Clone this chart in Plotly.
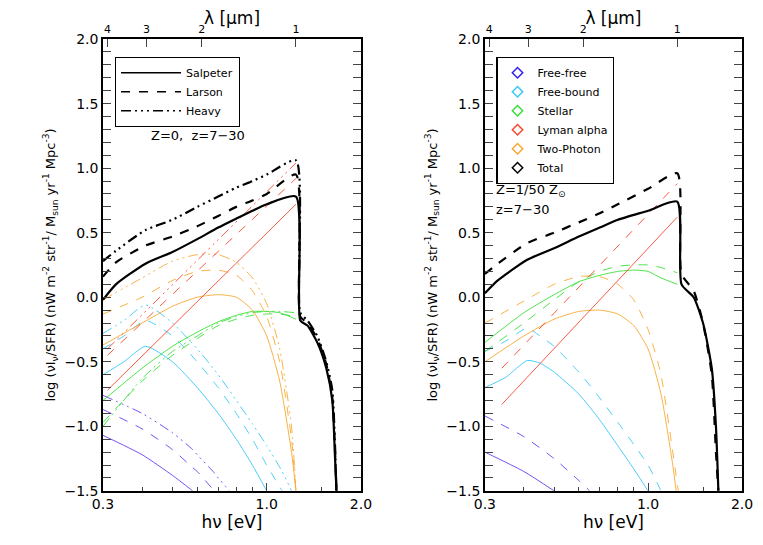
import math
import plotly.graph_objects as go

# Energie-Stuetzstellen (eV)
e_tot = [0.3, 0.33, 0.41, 0.5, 0.6, 0.7, 0.8, 0.9, 1.0, 1.24, 1.28, 1.35, 1.45, 1.55, 1.62, 1.65, 1.67]

# --- Linkes Panel: Z=0 ---
l_tot_sal = [-0.02, 0.1, 0.26, 0.35, 0.45, 0.54, 0.61, 0.67, 0.72, 0.78, -0.18, -0.22, -0.35, -0.55, -0.8, -1.2, -1.5]
l_tot_lar = [0.16, 0.27, 0.4, 0.47, 0.55, 0.63, 0.7, 0.75, 0.8, 0.95, -0.15, -0.2, -0.32, -0.52, -0.78, -1.15, -1.5]
l_tot_hev = [0.28, 0.36, 0.52, 0.6, 0.7, 0.78, 0.85, 0.9, 0.95, 1.06, -0.12, -0.18, -0.3, -0.5, -0.72, -1.1, -1.5]

lya_x = [0.31, 1.24]
l_lya_sal = [-0.72, 0.72]
l_lya_lar = [-0.45, 0.92]
l_lya_hev = [-0.4, 1.04]

l_2ph_x = [0.3, 0.4, 0.5, 0.6, 0.7, 0.8, 0.9, 1.0, 1.1, 1.2, 1.24]
l_2ph_sal = [-0.37, -0.2, -0.07, 0.0, 0.02, 0.0, -0.1, -0.3, -0.65, -1.2, -1.5]
l_2ph_lar = [-0.13, 0.0, 0.13, 0.2, 0.21, 0.17, 0.05, -0.15, -0.5, -1.1, -1.5]
l_2ph_hev = [-0.02, 0.15, 0.28, 0.33, 0.33, 0.27, 0.15, -0.05, -0.4, -1.0, -1.5]

fb_x = [0.3, 0.35, 0.41, 0.5, 0.6, 0.7, 0.8, 0.9, 1.0, 1.12, 1.2]
l_fb_sal = [-0.6, -0.5, -0.38, -0.5, -0.7, -0.9, -1.1, -1.3, -1.5, None, None]
l_fb_lar = [-0.4, -0.3, -0.18, -0.3, -0.5, -0.7, -0.9, -1.1, -1.3, -1.5, None]
l_fb_hev = [-0.28, -0.18, -0.06, -0.2, -0.4, -0.6, -0.8, -0.98, -1.15, -1.35, -1.5]

st_x = [0.3, 0.4, 0.5, 0.6, 0.7, 0.8, 0.9, 1.0, 1.1, 1.24]
l_st_sal = [-0.8, -0.55, -0.38, -0.27, -0.19, -0.14, -0.11, -0.11, -0.12, -0.17]
l_st_lar = [-0.97, -0.65, -0.45, -0.32, -0.22, -0.17, -0.14, -0.13, -0.13, -0.15]
l_st_hev = [-1.0, -0.63, -0.42, -0.3, -0.2, -0.15, -0.12, -0.11, -0.11, -0.12]

ff_x = [0.3, 0.4, 0.5, 0.58, 0.6, 0.68, 0.7, 0.76]
l_ff_sal = [-1.07, -1.22, -1.38, -1.5, None, None, None, None]
l_ff_lar = [-0.87, -1.02, -1.18, -1.32, -1.35, -1.5, None, None]
l_ff_hev = [-0.76, -0.9, -1.05, -1.18, -1.22, -1.36, -1.4, -1.5]

# --- Rechtes Panel: Z=1/50 Zsun ---
r_tot_x = [0.3, 0.33, 0.41, 0.5, 0.6, 0.7, 0.8, 1.0, 1.24, 1.28, 1.4, 1.5, 1.6, 1.65, 1.68]
r_tot_sal = [0.03, 0.13, 0.29, 0.38, 0.47, 0.54, 0.6, 0.67, 0.74, 0.1, 0.0, -0.2, -0.55, -1.0, -1.5]
r_tot_lar = [0.18, 0.26, 0.42, 0.5, 0.58, 0.65, 0.72, 0.84, 0.96, 0.18, 0.05, -0.2, -0.6, -1.2, -1.5]

r_lya_x = [0.34, 1.24]
r_lya_sal = [-0.83, 0.62]
r_lya_lar = [-0.55, 0.88]

r_2ph_x = [0.3, 0.4, 0.5, 0.6, 0.7, 0.8, 0.9, 1.0, 1.1, 1.2, 1.23, 1.25]
r_2ph_sal = [-0.5, -0.3, -0.17, -0.11, -0.1, -0.13, -0.22, -0.4, -0.75, -1.3, -1.5, None]
r_2ph_lar = [-0.2, -0.03, 0.1, 0.16, 0.16, 0.1, -0.02, -0.25, -0.6, -1.2, -1.38, -1.5]

r_st_sal = [-0.35, -0.12, 0.02, 0.12, 0.17, 0.2, 0.21, 0.2, 0.15, 0.1]
r_st_lar = [-0.42, -0.2, -0.02, 0.12, 0.2, 0.24, 0.25, 0.25, 0.23, 0.19]

r_fb_x = [0.3, 0.35, 0.41, 0.45, 0.5, 0.6, 0.7, 0.8, 0.9, 1.0, 1.1]
r_fb_sal = [-0.7, -0.62, -0.49, -0.51, -0.58, -0.75, -0.95, -1.15, -1.33, -1.5, None]
r_fb_lar = [-0.42, -0.34, -0.24, -0.3, -0.38, -0.58, -0.78, -0.97, -1.14, -1.3, -1.5]

r_ff_x = [0.3, 0.4, 0.5, 0.6, 0.65]
r_ff_sal = [-1.2, -1.35, -1.5, None, None]
r_ff_lar = [-0.92, -1.08, -1.25, -1.42, -1.5]

# Top-Achse: Wellenlaenge
lam_ticks = [4, 3, 2, 1]

PURPLE = "#6a3cf0"
CYAN = "#38c8f8"
GREEN = "#38e038"
RED = "#f84830"
ORANGE = "#f8a830"
HEAVY = "10px,4px,2px,4px,2px,4px,2px,4px"
FONT = "DejaVu Sans"

fig = go.Figure()


def add(x, y, color, dash, width, xa):
    fig.add_trace(go.Scatter(x=x, y=y, mode="lines", xaxis=xa, yaxis="y" if xa == "x" else "y2",
                             line=dict(color=color, dash=dash, width=width, shape="spline", smoothing=0.6),
                             showlegend=False, hoverinfo="skip"))


# linkes Panel
for col, xs, ys in [(PURPLE, ff_x, [l_ff_sal, l_ff_lar, l_ff_hev]),
                    (CYAN, fb_x, [l_fb_sal, l_fb_lar, l_fb_hev]),
                    (GREEN, st_x, [l_st_sal, l_st_lar, l_st_hev]),
                    (ORANGE, l_2ph_x, [l_2ph_sal, l_2ph_lar, l_2ph_hev]),
                    (RED, lya_x, [l_lya_sal, l_lya_lar, l_lya_hev]),
                    ("black", e_tot, [l_tot_sal, l_tot_lar, l_tot_hev])]:
    w = 2.2 if col == "black" else 0.9
    for y, d in zip(ys, ["solid", "dash", HEAVY]):
        add(xs, y, col, d, w, "x")

# rechtes Panel
for col, xs, ys in [(PURPLE, r_ff_x, [r_ff_sal, r_ff_lar]),
                    (CYAN, r_fb_x, [r_fb_sal, r_fb_lar]),
                    (GREEN, st_x, [r_st_sal, r_st_lar]),
                    (ORANGE, r_2ph_x, [r_2ph_sal, r_2ph_lar]),
                    (RED, r_lya_x, [r_lya_sal, r_lya_lar]),
                    ("black", r_tot_x, [r_tot_sal, r_tot_lar])]:
    w = 2.2 if col == "black" else 0.9
    for y, d in zip(ys, ["solid", "dash"]):
        add(xs, y, col, d, w, "x2")

# Legenden
for name, d in [("Salpeter", "solid"), ("Larson", "dash"), ("Heavy", HEAVY)]:
    fig.add_trace(go.Scatter(x=[None], y=[None], mode="lines", name=name, legend="legend",
                             line=dict(color="black", dash=d, width=1.3)))
for name, c in [("Free-free", "#3020f0"), ("Free-bound", CYAN), ("Stellar", GREEN),
                ("Lyman alpha", RED), ("Two-Photon", ORANGE), ("Total", "black")]:
    fig.add_trace(go.Scatter(x=[None], y=[None], mode="markers", name=name, legend="legend2", xaxis="x2", yaxis="y2",
                             marker=dict(symbol="diamond-open", color=c, size=8, line=dict(width=1.5))))

xr = [math.log10(0.3), math.log10(2.0)]
common_x = dict(type="log", range=xr, tickvals=[0.3, 1.0, 2.0], ticktext=["0.3", "1.0", "2.0"],
                ticks="inside", ticklen=8, showline=True, linecolor="black", linewidth=1.5,
                showgrid=False, zeroline=False, automargin=False,
                minor=dict(ticks="inside", ticklen=4, tickvals=[0.4, 0.5, 0.6, 0.7, 0.8, 0.9, 1.5]),
                title=dict(text="hν [eV]", standoff=4), tickfont=dict(size=14))
common_y = dict(range=[-1.5, 2.0], dtick=0.5, tickformat=".1f", ticks="inside", ticklen=8, mirror="allticks",
                showline=True, linecolor="black", linewidth=1.5, showgrid=False, zeroline=False, automargin=False,
                minor=dict(ticks="inside", ticklen=4, dtick=0.1), tickfont=dict(size=14),
                title=dict(text="log (νI<sub>ν</sub>/SFR) (nW m<sup>-2</sup> str<sup>-1</sup>/ M<sub>sun</sub> yr<sup>-1</sup> Mpc<sup>-3</sup>)",
                           font=dict(size=13), standoff=6))
top_x = dict(type="log", range=xr, side="top", tickvals=[1.24 / l for l in lam_ticks],
             ticktext=[str(l) for l in lam_ticks], ticks="inside", ticklen=8, showgrid=False,
             showline=True, linecolor="black", linewidth=1.5, automargin=False,
             title=dict(text="λ [μm]", standoff=2), tickfont=dict(size=11))

fig.update_layout(
    width=763, height=545, plot_bgcolor="white", paper_bgcolor="white",
    font=dict(family=FONT, size=14, color="black"),
    margin=dict(l=0, r=0, t=0, b=0),
    xaxis=dict(domain=[0.1245, 0.4626], anchor="y", **common_x),
    yaxis=dict(domain=[0.114, 0.943], anchor="x", **common_y),
    xaxis2=dict(domain=[0.625, 0.962], anchor="y2", **common_x),
    yaxis2=dict(domain=[0.114, 0.943], anchor="x2", **common_y),
    xaxis3=dict(overlaying="x", anchor="y", **top_x),
    xaxis4=dict(overlaying="x2", anchor="y2", **top_x),
    legend=dict(x=0.14, y=0.91, xanchor="left", yanchor="top", bordercolor="black", borderwidth=1.2,
                bgcolor="white", font=dict(size=11), itemwidth=60, tracegroupgap=0),
    legend2=dict(x=0.64, y=0.91, xanchor="left", yanchor="top", bordercolor="black", borderwidth=1.2,
                 bgcolor="white", font=dict(size=11), itemwidth=30, tracegroupgap=0),
    annotations=[
        dict(x=math.log10(0.42), y=1.25, xref="x", yref="y", text="Z=0,  z=7−30", showarrow=False,
             xanchor="left", font=dict(size=13)),
        dict(x=math.log10(0.32), y=0.83, xref="x2", yref="y2", text="Z=1/50 Z<sub>⊙</sub>", showarrow=False,
             xanchor="left", font=dict(size=13)),
        dict(x=math.log10(0.32), y=0.68, xref="x2", yref="y2", text="z=7−30", showarrow=False,
             xanchor="left", font=dict(size=13)),
    ],
)
# Dummy traces so top axes render
fig.add_trace(go.Scatter(x=[None], y=[None], xaxis="x3", yaxis="y", showlegend=False))
fig.add_trace(go.Scatter(x=[None], y=[None], xaxis="x4", yaxis="y2", showlegend=False))

fig.write_html("out.html")
